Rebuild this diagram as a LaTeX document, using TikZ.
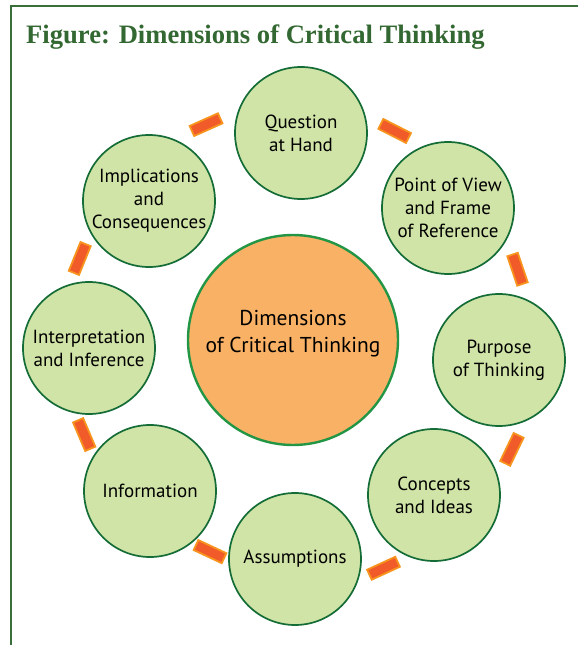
\documentclass[tikz,border=0pt]{standalone}
\usepackage{fontspec}
\setmainfont{Liberation Serif}
\setsansfont{PT Sans}

\definecolor{framegreen}{RGB}{58,110,58}
\definecolor{titlegreen}{RGB}{52,104,50}
\definecolor{ringfill}{RGB}{209,228,167}
\definecolor{ringline}{RGB}{20,108,55}
\definecolor{corefill}{RGB}{248,177,101}
\definecolor{coreline}{RGB}{35,150,70}
\definecolor{barfill}{RGB}{241,90,41}
\definecolor{barline}{RGB}{247,148,30}

\begin{document}
\begin{tikzpicture}[
  x=1pt, y=1pt,
  dim/.style={circle, draw=ringline, fill=ringfill, line width=1.7pt, minimum size=132pt, inner sep=0pt, align=center, font=\sffamily\fontsize{19}{23}\selectfont},
  core/.style={circle, draw=coreline, fill=corefill, line width=2.4pt, minimum size=210pt, inner sep=0pt, align=center, text depth=18pt, font=\sffamily\fontsize{21.5}{27}\selectfont},
  bar/.style={rectangle, fill=barfill, draw=barline, line width=1.8pt, minimum width=31pt, minimum height=11pt, inner sep=0pt, sloped, allow upside down},
  heading/.style={font=\bfseries\fontsize{26.6}{30}\selectfont, text=titlegreen, inner sep=0pt},
]
  \useasboundingbox (0,0) rectangle (578,-645);
  \draw[framegreen, line width=2pt] (11,-646) |- (579,-6);

  \node[heading, anchor=base west] (title) at (26,-43) {Figure: Dimensions of Critical Thinking};

  \node[core] (core) at (293,-340) {Dimensions\\of Critical Thinking};

  \node[dim] (quest) at (301,-133) {Question\\at Hand};
  \node[dim] (pov) at (448,-208) {Point of View\\and Frame\\of Reference};
  \node[dim] (purp) at (499,-360) {Purpose\\of Thinking};
  \node[dim] (conc) at (434,-495) {Concepts\\and Ideas};
  \node[dim] (assum) at (295,-559) {Assumptions};
  \node[dim] (info) at (150,-491) {Information};
  \node[dim] (interp) at (89,-348) {Interpretation\\and Inference};
  \node[dim] (impl) at (149,-201) {Implications\\and\\Consequences};

  \path (impl.center) -- node[bar, above=40pt] {} (quest.center);
  \path (quest.center) -- node[bar, above=38pt] {} (pov.center);
  \path (pov.center) -- node[bar, above=40pt] {} (purp.center);
  \path (purp.center) -- node[bar, above=44pt] {} (conc.center);
  \path (conc.center) -- node[bar, above=39pt] {} (assum.center);
  \path (assum.center) -- node[bar, above=23pt] {} (info.center);
  \path (info.center) -- node[bar, above=32pt] {} (interp.center);
  \path (interp.center) -- node[bar, above=36pt] {} (impl.center);
\end{tikzpicture}
\end{document}
